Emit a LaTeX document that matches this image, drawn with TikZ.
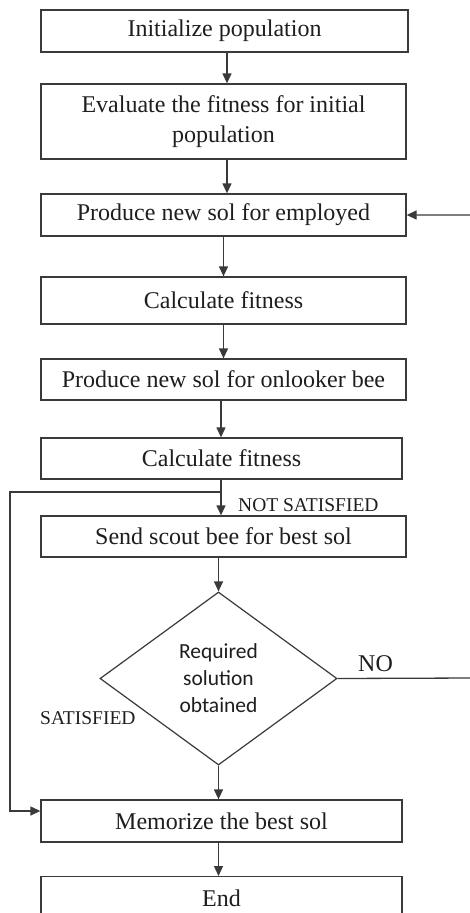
\documentclass[tikz,border=0pt]{standalone}
\usepackage{fontspec}
\setmainfont{Liberation Serif}
\newfontfamily\tnr{Liberation Serif}
\newfontfamily\calib{Carlito}
\usetikzlibrary{arrows.meta,shapes.geometric,calc}
\definecolor{ln}{HTML}{3A3A3A}
\definecolor{tx}{HTML}{1E1E1E}
\tikzset{
  procbox/.style={draw=ln,line width=1.3pt,rectangle,inner sep=0pt,text=tx,
    font=\tnr\fontsize{24}{30}\selectfont,align=center},
  arr/.style={draw=ln,line width=1.3pt,-{Triangle[length=10pt,width=9pt]}},
  lbl/.style={text=tx,inner sep=0pt,font=\tnr\fontsize{19.5}{22}\selectfont},
  decide/.style={draw=ln,line width=1.2pt,diamond,aspect=1.37,inner sep=0pt,
    minimum width=237pt,minimum height=173pt,text=tx,align=center,
    font=\calib\fontsize{21.5}{27}\selectfont}
}
\begin{document}
\begin{tikzpicture}[x=1pt,y=-1pt]
\useasboundingbox (0,0) rectangle (469,913);
\fill[white] (0,0) rectangle (469,913);
\node[procbox,minimum width=367pt,minimum height=42pt] (b1) at (224.5,31) {Initialize population};
\node[procbox,minimum width=365pt,minimum height=75pt] (b2) at (223.5,121.5) {Evaluate the fitness for initial\\population};
\node[procbox,minimum width=365pt,minimum height=42pt] (b3) at (223.5,215) {Produce new sol for employed};
\node[procbox,minimum width=365pt,minimum height=47pt] (b4) at (223.5,300.5) {Calculate fitness};
\node[procbox,minimum width=365pt,minimum height=41pt] (b5) at (223.5,379.5) {Produce new sol for onlooker bee};
\node[procbox,minimum width=361pt,minimum height=41pt] (b6) at (221.5,458.5) {Calculate fitness};
\node[procbox,minimum width=365pt,minimum height=41pt] (b7) at (223.5,536.5) {Send scout bee for best sol};
\node[decide] (dia) at (218.5,678.5) {Required\\solution\\obtained};
\node[procbox,minimum width=361pt,minimum height=42pt] (b8) at (221.5,821) {Memorize the best sol};
\node[procbox,minimum width=361pt,minimum height=50pt,anchor=north] (b9) at (221.5,876) {\raisebox{6pt}{End}};

\coordinate (x1) at (227,0);
\coordinate (x2) at (221,0);
\draw[arr] (x1 |- b1.south) -- (x1 |- b2.north);
\draw[arr] (x1 |- b2.south) -- (x1 |- b3.north);
\draw[arr] (b3.south) -- (b3.south |- b4.north);
\draw[arr] (b4.south) -- (b4.south |- b5.north);
\draw[arr] (x2 |- b5.south) -- (x2 |- b6.north);
\draw[arr] (x2 |- b6.south) -- (x2 |- b7.north);
\draw[arr] (dia.north |- b7.south) -- (dia.north);
\draw[arr] (dia.south) -- (dia.south |- b8.north);
\draw[arr] (dia.south |- b8.south) -- (dia.south |- b9.north);

\coordinate (br) at (221,492);
\coordinate (lc) at (10,492);
\draw[arr] (br) -- (lc) -- (lc |- 0,811) -- (b8.west |- 0,811);

\coordinate (rc) at (473,678);
\draw[arr] (dia.east) -- (rc) -- (rc |- b3.east) -- (b3.east);

\node[lbl,anchor=west] (ns) at (238,505) {NOT SATISFIED};
\node[lbl,anchor=west] (sat) at (40,718) {SATISFIED};
\node[lbl,anchor=west,font=\tnr\fontsize{24}{26}\selectfont] (no) at (358,664) {NO};
\end{tikzpicture}
\end{document}
